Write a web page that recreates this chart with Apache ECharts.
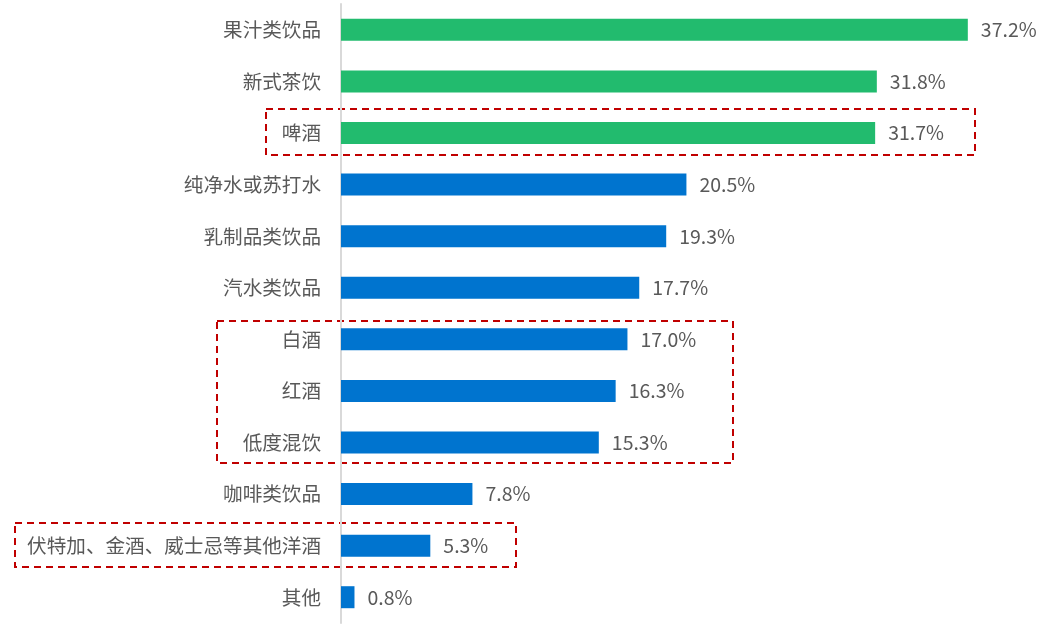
<!DOCTYPE html>
<html><head><meta charset="utf-8">
<script src="https://cdn.jsdelivr.net/npm/echarts@6/dist/echarts.min.js"></script>
<style>html,body{margin:0;padding:0;background:#fff}#c{width:1059px;height:629px}</style>
</head><body><div id="c"></div>
<script>
const categories = ['果汁类饮品','新式茶饮','啤酒','纯净水或苏打水','乳制品类饮品','汽水类饮品','白酒','红酒','低度混饮','咖啡类饮品','伏特加、金酒、威士忌等其他洋酒','其他'];
const values = [37.2,31.8,31.7,20.5,19.3,17.7,17.0,16.3,15.3,7.8,5.3,0.8];
const greenCount = 3;
const GREEN = '#22BB6E', BLUE = '#0074CF';
const chart = echarts.init(document.getElementById('c'));
const font = '"Noto Sans CJK SC", sans-serif';
chart.setOption({
  animation:false,
  grid:{left:341,top:4,bottom:6,right:44,containLabel:false},
  xAxis:{type:'value',min:0,max:40,show:false},
  yAxis:{type:'category',inverse:true,data:categories,
    axisLine:{show:true,lineStyle:{color:'#D9D9D9',width:2}},
    axisTick:{show:false},
    axisLabel:{color:'#595959',fontSize:19.6,fontFamily:font,margin:20}},
  series:[{type:'bar',barWidth:22,
    data:values.map((v,i)=>({value:v,itemStyle:{color:i<greenCount?GREEN:BLUE}})),
    label:{show:true,position:'right',distance:13,color:'#595959',fontSize:19.5,fontFamily:font,
      formatter:p=>p.value.toFixed(1)+'%'}}],
  graphic:[
    {type:'rect',shape:{x:266,y:109,width:709,height:46},style:{fill:'none',stroke:'#C00000',lineWidth:2,lineDash:[7,5]}},
    {type:'rect',shape:{x:217,y:321,width:516,height:142},style:{fill:'none',stroke:'#C00000',lineWidth:2,lineDash:[7,5]}},
    {type:'rect',shape:{x:15,y:523,width:501,height:44},style:{fill:'none',stroke:'#C00000',lineWidth:2,lineDash:[7,5]}}
  ]
});
</script></body></html>
